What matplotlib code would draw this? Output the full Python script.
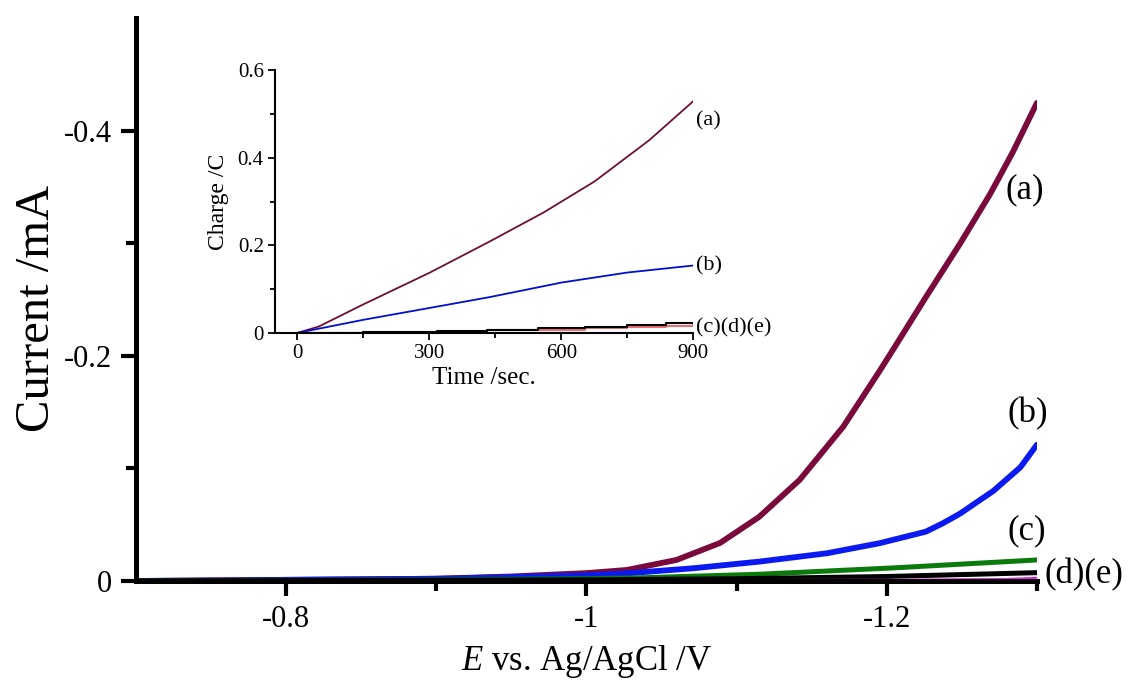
import matplotlib
matplotlib.use('Agg')
import matplotlib.pyplot as plt
import matplotlib.ticker as mticker

plt.rcParams['font.family'] = ['Liberation Serif', 'DejaVu Serif']
plt.rcParams['mathtext.fontset'] = 'custom'
plt.rcParams['mathtext.rm'] = 'Liberation Serif'
plt.rcParams['mathtext.it'] = 'Liberation Serif:italic'
plt.rcParams['axes.unicode_minus'] = False

# main plot: linear sweep voltammograms (current is negative, cathodic)
v_a = [-0.70, -0.80, -0.90, -0.95, -1.00, -1.027, -1.06, -1.089, -1.115, -1.142,
       -1.171, -1.195, -1.204, -1.226, -1.249, -1.269, -1.284, -1.300]
i_a = [0.000, -0.001, -0.002, -0.004, -0.007, -0.0098, -0.0187, -0.0338, -0.0569, -0.0898,
       -0.137, -0.186, -0.205, -0.252, -0.300, -0.344, -0.381, -0.4246]

v_b = [-0.70, -0.80, -0.90, -1.00, -1.027, -1.071, -1.115, -1.160, -1.195, -1.226,
       -1.237, -1.249, -1.271, -1.289, -1.300]
i_b = [0.000, -0.001, -0.002, -0.005, -0.0068, -0.0113, -0.0172, -0.0246, -0.0335, -0.0438,
       -0.051, -0.060, -0.080, -0.101, -0.121]

v_c = [-0.70, -0.90, -1.00, -1.04, -1.115, -1.204, -1.300]
i_c = [0.000, -0.001, -0.002, -0.003, -0.006, -0.0116, -0.0187]

v_d = [-0.70, -1.00, -1.10, -1.20, -1.30]
i_d = [0.000, -0.001, -0.002, -0.004, -0.0074]

v_e = [-0.70, -1.00, -1.20, -1.28, -1.30]
i_e = [0.000, -0.0003, -0.0008, -0.0015, -0.0025]

# inset: charge vs time
t_a = [0, 50, 150, 300, 438, 560, 676, 800, 900]
q_a = [0, 0.015, 0.065, 0.137, 0.209, 0.275, 0.346, 0.44, 0.529]
t_b = [0, 50, 150, 300, 438, 600, 750, 900]
q_b = [0, 0.01, 0.03, 0.057, 0.082, 0.115, 0.138, 0.154]
t_d = [0, 150, 317, 431, 547, 654, 749, 838, 900]
q_d = [0, 0.002, 0.005, 0.008, 0.011, 0.014, 0.018, 0.022, 0.024]
q_e = [0, 0.001, 0.003, 0.006, 0.008, 0.011, 0.014, 0.017, 0.018]

fig = plt.figure(figsize=(11.31, 6.82), dpi=100)
ax = fig.add_axes([0.1202, 0.1481, 0.7966, 0.8255])

ax.plot(v_a, i_a, color='#7a0a3c', lw=4.2, solid_capstyle='round', solid_joinstyle='round')
ax.plot(v_b, i_b, color='#0a1af0', lw=4.2, solid_capstyle='round', solid_joinstyle='round')
ax.plot(v_c, i_c, color='#0a7a0a', lw=3.6, solid_capstyle='round')
ax.plot(v_d, i_d, color='black', lw=3.6, solid_capstyle='round')
ax.plot(v_e, i_e, color='#e020e0', lw=2.0)

ax.set_xlim(-0.7, -1.3)
ax.set_ylim(0.0, -0.5)
ax.xaxis.set_major_locator(mticker.FixedLocator([-0.8, -1.0, -1.2]))
ax.xaxis.set_minor_locator(mticker.FixedLocator([-0.9, -1.1, -1.3]))
ax.xaxis.set_major_formatter(mticker.FixedFormatter(['-0.8', '-1', '-1.2']))
ax.yaxis.set_major_locator(mticker.FixedLocator([0, -0.2, -0.4]))
ax.yaxis.set_minor_locator(mticker.FixedLocator([-0.1, -0.3]))
ax.yaxis.set_major_formatter(mticker.FixedFormatter(['0', '-0.2', '-0.4']))

for s in ['top', 'right']:
    ax.spines[s].set_visible(False)
for s in ['left', 'bottom']:
    ax.spines[s].set_linewidth(3.6)
ax.tick_params(which='major', length=11, width=3, labelsize=22, direction='out', pad=6)
ax.tick_params(which='minor', length=7, width=3, direction='out')

fig.text(37 / 1131, 1 - 308 / 682, 'Current /mA', fontsize=35, rotation=90,
         ha='center', va='center')
ax.set_xlabel(r'$\mathit{E}$ vs. Ag/AgCl /V', fontsize=25, labelpad=7)

ax.text(-1.292, -0.3476, '(a)', fontsize=25, ha='center', va='center')
ax.text(-1.294, -0.149, '(b)', fontsize=25, ha='center', va='center')
ax.text(-1.293, -0.045, '(c)', fontsize=25, ha='center', va='center')
ax.text(-1.331, -0.0053, '(d)(e)', fontsize=25, ha='center', va='center')

# inset
ins = fig.add_axes([0.2431, 0.5117, 0.3699, 0.3856])
ins.plot(t_a, q_a, color='#6e0f34', lw=1.3)
ins.plot(t_b, q_b, color='#0010cc', lw=1.3)
ins.plot(t_d, q_e, color='#e87070', lw=1.5, drawstyle='steps-post')
ins.plot(t_d, q_d, color='black', lw=1.5, drawstyle='steps-post')
ins.set_xlim(-50, 900)
ins.set_ylim(0, 0.6)
ins.xaxis.set_major_locator(mticker.FixedLocator([0, 300, 600, 900]))
ins.xaxis.set_minor_locator(mticker.FixedLocator([150, 450, 750]))
ins.yaxis.set_major_locator(mticker.FixedLocator([0, 0.2, 0.4, 0.6]))
ins.yaxis.set_minor_locator(mticker.FixedLocator([0.1, 0.3, 0.5]))
ins.yaxis.set_major_formatter(mticker.FixedFormatter(['0', '0.2', '0.4', '0.6']))
for s in ['top', 'right']:
    ins.spines[s].set_visible(False)
for s in ['left', 'bottom']:
    ins.spines[s].set_linewidth(1.5)
ins.tick_params(which='major', length=5, width=1.3, labelsize=15, direction='out', pad=3)
ins.tick_params(which='minor', length=3.5, width=1.3, direction='out')
ins.set_ylabel('Charge /C', fontsize=17, labelpad=6)
ins.set_xlabel('Time /sec.', fontsize=18, labelpad=3)
ins.text(906, 0.485, '(a)', fontsize=16, ha='left', va='center')
ins.text(906, 0.153, '(b)', fontsize=16, ha='left', va='center')
ins.text(906, 0.011, '(c)(d)(e)', fontsize=16, ha='left', va='center')

fig.savefig('out.png', dpi=100)
